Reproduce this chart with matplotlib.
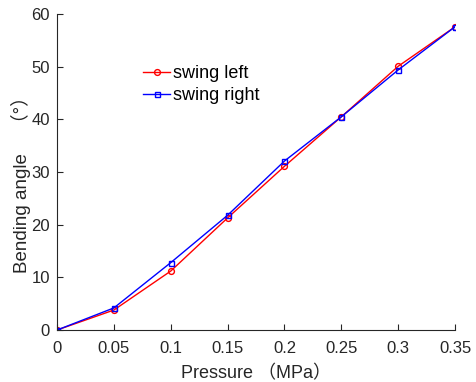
import numpy as np
import matplotlib.pyplot as plt

pressure = [0, 0.05, 0.1, 0.15, 0.2, 0.25, 0.3, 0.35]
swing_left = [0, 3.8, 11.2, 21.3, 31.1, 40.5, 50.1, 57.6]
swing_right = [0, 4.2, 12.8, 21.8, 32.1, 40.5, 49.4, 57.6]
xtick_labels = ['0', '0.05', '0.1', '0.15', '0.2', '0.25', '0.3', '0.35']

plt.rcParams['font.family'] = ['Liberation Sans', 'Noto Sans CJK SC']

fig = plt.figure(figsize=(4.77, 3.82), dpi=100)
ax = fig.add_axes([0.1195, 0.136, 0.8345, 0.827])

ax.plot(pressure, swing_left, color='red', marker='o', markersize=4.2,
        markerfacecolor='none', linewidth=1, label='swing left')
ax.plot(pressure, swing_right, color='blue', marker='s', markersize=3.6,
        markerfacecolor='none', linewidth=1, label='swing right')

ax.set_xlim(0, 0.35)
ax.set_ylim(0, 60)
ax.set_xticks(pressure)
ax.set_xticklabels(xtick_labels)
ax.set_yticks(np.arange(0, 61, 10))
ax.tick_params(direction='in', length=4, labelsize=12, colors='#262626')
ax.tick_params(axis='x', pad=8)
ax.tick_params(axis='y', pad=5)
for s in ['top', 'right']:
    ax.spines[s].set_visible(False)
for s in ['left', 'bottom']:
    ax.spines[s].set_color('#262626')
    ax.spines[s].set_linewidth(0.8)

ax.set_xlabel('Pressure （MPa）', fontsize=13, color='#262626')
ax.set_ylabel('Bending angle    （°）', fontsize=13.5, color='#262626')
ax.xaxis.set_label_coords(0.5, -0.112)
ax.yaxis.set_label_coords(-0.066, 0.476)

ax.legend(loc='upper left', bbox_to_anchor=(0.216, 0.839), frameon=False,
          fontsize=13, handlelength=1.5, handletextpad=0.15, labelspacing=0.3,
          borderpad=0, borderaxespad=0)

fig.savefig('out.png', dpi=100)
